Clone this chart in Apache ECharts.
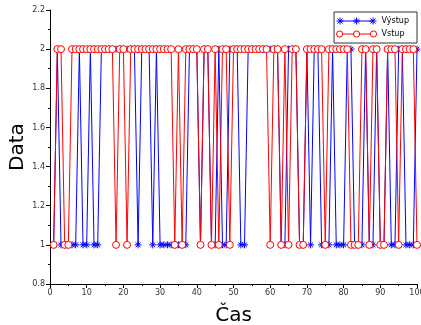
<!DOCTYPE html>
<html>
<head>
<meta charset="utf-8">
<script src="https://cdn.jsdelivr.net/npm/echarts@6/dist/echarts.min.js"></script>
<style>
  html, body { margin: 0; padding: 0; background: #fff; }
  #chart { width: 421px; height: 325px; }
</style>
</head>
<body>
<div id="chart"></div>
<script>
// values at time steps 1..100
const vystup = [
  1,2,1,1,1,1,1,2,1,1,
  2,1,1,2,2,2,2,2,2,2,
  2,2,2,1,2,2,2,1,2,1,
  1,1,1,1,1,1,1,2,2,2,
  1,2,2,1,1,2,1,1,2,2,
  2,1,1,2,2,2,2,2,2,2,
  2,2,1,1,2,2,2,1,1,2,
  1,2,2,1,1,1,2,1,1,1,
  2,2,1,1,1,2,1,1,2,1,
  1,2,1,1,2,2,1,1,1,2
];
const vstup = [
  1,2,2,1,1,2,2,2,2,2,
  2,2,2,2,2,2,2,1,2,2,
  1,2,2,2,2,2,2,2,2,2,
  2,2,2,1,2,1,2,2,2,2,
  1,2,2,1,2,1,2,2,1,2,
  2,2,2,2,2,2,2,2,2,1,
  2,2,1,2,1,2,2,1,1,2,
  2,2,2,2,1,2,2,2,2,2,
  2,1,1,1,2,2,1,2,2,1,
  1,2,2,2,1,2,2,2,2,1
];
const seriesNames = ['Výstup', 'Vstup'];

const star = 'path://M5 0 L5 10 M0 5 L10 5 M1.5 1.5 L8.5 8.5 M1.5 8.5 L8.5 1.5';

// legend icons: line with three markers, like the original
function starAt(x) {
  return 'M' + x + ' 0.5 L' + x + ' 7.5 M' + (x - 3.5) + ' 4 L' + (x + 3.5) + ' 4 ' +
    'M' + (x - 2.5) + ' 1.5 L' + (x + 2.5) + ' 6.5 M' + (x - 2.5) + ' 6.5 L' + (x + 2.5) + ' 1.5 ';
}
function circleAt(x) {
  return 'M' + (x - 3) + ' 4 A3 3 0 1 1 ' + (x + 3) + ' 4 A3 3 0 1 1 ' + (x - 3) + ' 4 Z ';
}
const starIcon = 'path://M3.5 4 L36.5 4 ' + starAt(3.5) + starAt(20) + starAt(36.5);
const circleIcon = 'path://M6.5 4 L17 4 M23 4 L33.5 4 ' + circleAt(3.5) + circleAt(20) + circleAt(36.5);

const font = 'DejaVu Sans';

var chart = echarts.init(document.getElementById('chart'));

var option = {
  animation: false,
  textStyle: { fontFamily: font },
  grid: { left: 50, right: 4, top: 10, bottom: 41, outerBoundsMode: 'none', containLabel: false },
  legend: {
    data: [
      { name: seriesNames[0], icon: starIcon,
        itemStyle: { color: 'rgba(0,0,0,0)', borderColor: '#0000ff', borderWidth: 1 } },
      { name: seriesNames[1], icon: circleIcon,
        itemStyle: { color: '#fff', borderColor: '#ff0000', borderWidth: 1 } }
    ],
    orient: 'vertical',
    right: 4,
    top: 12,
    backgroundColor: '#fff',
    borderColor: '#333',
    borderWidth: 1,
    borderRadius: 0,
    padding: [5, 8, 5, 2],
    itemGap: 5,
    itemWidth: 40,
    itemHeight: 7,
    textStyle: { fontSize: 8, color: '#000', fontFamily: font }
  },
  xAxis: {
    type: 'value',
    min: 0,
    max: 100,
    interval: 10,
    name: 'Čas',
    nameLocation: 'middle',
    nameGap: 22,
    nameMoveOverlap: false,
    nameTextStyle: { fontSize: 20, color: '#000', fontFamily: font },
    axisLine: { show: true, onZero: false, lineStyle: { color: '#000', width: 1 } },
    axisTick: { show: true, length: 4, lineStyle: { color: '#000' } },
    minorTick: { show: true, splitNumber: 2, length: 2, lineStyle: { color: '#000' } },
    splitLine: { show: false },
    axisLabel: { fontSize: 8, color: '#333', margin: 5 }
  },
  yAxis: {
    type: 'value',
    min: 0.8,
    max: 2.2,
    interval: 0.2,
    name: 'Data',
    nameLocation: 'middle',
    nameGap: 22,
    nameMoveOverlap: false,
    nameTextStyle: { fontSize: 20, color: '#000', fontFamily: font },
    axisLine: { show: true, onZero: false, lineStyle: { color: '#000', width: 1 } },
    axisTick: { show: true, length: 4, lineStyle: { color: '#000' } },
    minorTick: { show: true, splitNumber: 2, length: 2, lineStyle: { color: '#000' } },
    splitLine: { show: false },
    axisLabel: { fontSize: 8, color: '#333', margin: 5 }
  },
  series: [
    {
      name: seriesNames[0],
      type: 'line',
      data: vystup.map((v, i) => [i + 1, v]),
      symbol: star,
      symbolSize: 7,
      showAllSymbol: true,
      lineStyle: { color: '#0000ff', width: 1 },
      itemStyle: { color: 'rgba(0,0,0,0)', borderColor: '#0000ff', borderWidth: 1 },
      emphasis: { disabled: true }
    },
    {
      name: seriesNames[1],
      type: 'line',
      data: vstup.map((v, i) => [i + 1, v]),
      symbol: 'circle',
      symbolSize: 7,
      showAllSymbol: true,
      lineStyle: { color: '#ff0000', width: 1 },
      itemStyle: { color: '#fff', borderColor: '#ff0000', borderWidth: 1 },
      emphasis: { disabled: true }
    }
  ]
};

chart.setOption(option);
</script>
</body>
</html>
